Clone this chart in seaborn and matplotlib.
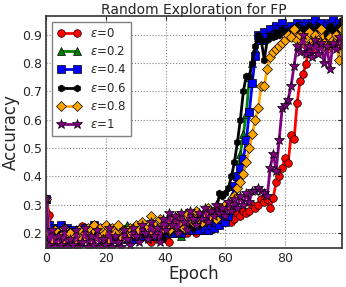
import numpy as np
import pandas as pd
import matplotlib
matplotlib.use("Agg")
import matplotlib.pyplot as plt
import seaborn as sns

# accuracy per epoch (0..99)
epochs = list(range(100))

acc_e0 = [0.32, 0.265, 0.19, 0.17, 0.16, 0.18, 0.17, 0.19, 0.18, 0.20,
          0.19, 0.17, 0.225, 0.22, 0.20, 0.18, 0.21, 0.19, 0.20, 0.18,
          0.19, 0.21, 0.20, 0.18, 0.19, 0.20, 0.21, 0.19, 0.20, 0.21,
          0.20, 0.21, 0.19, 0.20, 0.18, 0.17, 0.19, 0.18, 0.20, 0.19,
          0.18, 0.17, 0.20, 0.21, 0.20, 0.20, 0.21, 0.20, 0.22, 0.21,
          0.20, 0.22, 0.21, 0.23, 0.22, 0.21, 0.23, 0.24, 0.23, 0.25,
          0.24, 0.26, 0.24, 0.25, 0.27, 0.26, 0.28, 0.27, 0.28, 0.30,
          0.29, 0.30, 0.32, 0.31, 0.32, 0.29, 0.325, 0.38, 0.40, 0.43,
          0.466, 0.448, 0.545, 0.531, 0.657, 0.737, 0.76, 0.797, 0.86, 0.87,
          0.85, 0.88, 0.87, 0.89, 0.86, 0.88, 0.87, 0.89, 0.88, 0.87]

acc_e02 = [0.32, 0.20, 0.18, 0.19, 0.20, 0.19, 0.20, 0.18, 0.19, 0.20,
           0.21, 0.20, 0.19, 0.20, 0.21, 0.20, 0.22, 0.20, 0.21, 0.20,
           0.23, 0.21, 0.20, 0.21, 0.20, 0.22, 0.20, 0.23, 0.21, 0.20,
           0.20, 0.21, 0.20, 0.19, 0.20, 0.21, 0.20, 0.21, 0.22, 0.20,
           0.21, 0.20, 0.22, 0.21, 0.20, 0.19, 0.21, 0.22, 0.21, 0.22,
           0.22, 0.23, 0.22, 0.21, 0.23, 0.24, 0.23, 0.25, 0.24, 0.26,
           0.27, 0.28, 0.31, 0.35, 0.40, 0.48, 0.55, 0.62, 0.75, 0.80,
           0.85, 0.89, 0.88, 0.91, 0.90, 0.92, 0.93, 0.91, 0.92, 0.93,
           0.92, 0.91, 0.93, 0.92, 0.94, 0.93, 0.92, 0.93, 0.94, 0.93,
           0.95, 0.93, 0.92, 0.94, 0.93, 0.92, 0.94, 0.93, 0.92, 0.94]

acc_e04 = [0.32, 0.23, 0.22, 0.20, 0.22, 0.23, 0.21, 0.22, 0.20, 0.21,
           0.20, 0.21, 0.19, 0.22, 0.20, 0.21, 0.23, 0.21, 0.20, 0.22,
           0.20, 0.19, 0.21, 0.20, 0.18, 0.19, 0.20, 0.18, 0.19, 0.18,
           0.19, 0.20, 0.19, 0.20, 0.19, 0.21, 0.20, 0.19, 0.20, 0.21,
           0.20, 0.21, 0.20, 0.22, 0.21, 0.20, 0.22, 0.21, 0.22, 0.21,
           0.22, 0.21, 0.23, 0.22, 0.21, 0.23, 0.22, 0.24, 0.23, 0.25,
           0.24, 0.26, 0.30, 0.365, 0.40, 0.43, 0.46, 0.53, 0.626, 0.73,
           0.826, 0.897, 0.88, 0.91, 0.89, 0.92, 0.90, 0.93, 0.92, 0.94,
           0.92, 0.91, 0.93, 0.92, 0.94, 0.93, 0.92, 0.94, 0.93, 0.94,
           0.95, 0.93, 0.94, 0.92, 0.93, 0.94, 0.95, 0.93, 0.94, 0.93]

acc_e06 = [0.32, 0.18, 0.20, 0.19, 0.17, 0.20, 0.19, 0.21, 0.18, 0.20,
           0.21, 0.19, 0.20, 0.18, 0.21, 0.20, 0.19, 0.21, 0.20, 0.19,
           0.20, 0.18, 0.19, 0.20, 0.19, 0.18, 0.20, 0.19, 0.20, 0.19,
           0.20, 0.19, 0.21, 0.20, 0.19, 0.20, 0.21, 0.19, 0.20, 0.18,
           0.21, 0.20, 0.22, 0.21, 0.22, 0.21, 0.23, 0.22, 0.23, 0.22,
           0.24, 0.23, 0.24, 0.25, 0.26, 0.25, 0.27, 0.28, 0.34, 0.33,
           0.34, 0.36, 0.40, 0.45, 0.52, 0.60, 0.70, 0.755, 0.755, 0.80,
           0.86, 0.90, 0.88, 0.81, 0.88, 0.90, 0.89, 0.91, 0.90, 0.92,
           0.91, 0.90, 0.92, 0.91, 0.93, 0.90, 0.92, 0.91, 0.93, 0.92,
           0.91, 0.93, 0.92, 0.90, 0.92, 0.93, 0.91, 0.92, 0.93, 0.95]

acc_e08 = [0.32, 0.20, 0.17, 0.21, 0.16, 0.19, 0.22, 0.17, 0.20, 0.18,
           0.16, 0.21, 0.18, 0.20, 0.22, 0.17, 0.23, 0.19, 0.22, 0.18,
           0.23, 0.17, 0.22, 0.20, 0.23, 0.18, 0.21, 0.19, 0.22, 0.20,
           0.23, 0.21, 0.24, 0.22, 0.20, 0.26, 0.23, 0.21, 0.25, 0.22,
           0.24, 0.21, 0.25, 0.23, 0.26, 0.24, 0.22, 0.27, 0.25, 0.24,
           0.28, 0.26, 0.24, 0.27, 0.29, 0.26, 0.28, 0.25, 0.29, 0.28,
           0.30, 0.29, 0.31, 0.33, 0.36, 0.38, 0.41, 0.45, 0.50, 0.55,
           0.60, 0.64, 0.72, 0.72, 0.78, 0.82, 0.84, 0.85, 0.86, 0.87,
           0.88, 0.90, 0.89, 0.92, 0.88, 0.90, 0.87, 0.89, 0.91, 0.86,
           0.90, 0.88, 0.92, 0.87, 0.85, 0.89, 0.88, 0.90, 0.81, 0.92]

acc_e1 = [0.32, 0.16, 0.21, 0.15, 0.19, 0.16, 0.22, 0.15, 0.18, 0.16,
          0.21, 0.15, 0.17, 0.22, 0.15, 0.19, 0.16, 0.21, 0.15, 0.18,
          0.16, 0.22, 0.15, 0.19, 0.17, 0.15, 0.21, 0.18, 0.16, 0.22,
          0.19, 0.17, 0.23, 0.20, 0.18, 0.24, 0.19, 0.22, 0.17, 0.25,
          0.21, 0.27, 0.23, 0.26, 0.20, 0.27, 0.24, 0.21, 0.28, 0.25,
          0.23, 0.27, 0.25, 0.29, 0.24, 0.28, 0.26, 0.30, 0.27, 0.29,
          0.26, 0.31, 0.28, 0.32, 0.29, 0.33, 0.30, 0.34, 0.31, 0.35,
          0.35, 0.36, 0.35, 0.34, 0.33, 0.43, 0.48, 0.42, 0.53, 0.64,
          0.65, 0.67, 0.72, 0.79, 0.86, 0.84, 0.90, 0.83, 0.86, 0.82,
          0.88, 0.83, 0.87, 0.80, 0.86, 0.78, 0.87, 0.85, 0.89, 0.86]

labels = [r"$\epsilon$=0", r"$\epsilon$=0.2", r"$\epsilon$=0.4",
          r"$\epsilon$=0.6", r"$\epsilon$=0.8", r"$\epsilon$=1"]
colors = ["red", "green", "blue", "black", "orange", "purple"]
markers = ["o", "^", "s", "h", "D", "*"]
msizes = [5.5, 6, 5.5, 5, 5.5, 7]

series = [acc_e0, acc_e02, acc_e04, acc_e06, acc_e08, acc_e1]
df = pd.concat([pd.DataFrame({"Epoch": epochs, "Accuracy": s, "eps": lab})
                for s, lab in zip(series, labels)], ignore_index=True)

sns.set_style("white")
plt.rcParams["font.family"] = ["DejaVu Sans"]

fig = plt.figure(figsize=(3.46, 2.87), dpi=100)
ax = fig.add_axes([0.134, 0.136, 0.854, 0.808])

for lab, c, m, ms in zip(labels, colors, markers, msizes):
    sub = df[df["eps"] == lab]
    sns.lineplot(data=sub, x="Epoch", y="Accuracy", ax=ax, color=c,
                 marker=m, markersize=ms, markeredgecolor="black",
                 markeredgewidth=0.5, linewidth=2, label=lab)

ax.set_xlim(0, 99)
ax.set_ylim(0.148, 0.965)
ax.set_xticks([0, 20, 40, 60, 80])
ax.set_yticks([0.2, 0.3, 0.4, 0.5, 0.6, 0.7, 0.8, 0.9])
ax.grid(True, linestyle=":", color="gray", linewidth=0.8)
ax.tick_params(direction="in", top=True, right=True, labelsize=9,
               length=3, pad=3)
for sp in ax.spines.values():
    sp.set_color("#333333")
    sp.set_linewidth(1.2)

ax.set_title("Random Exploration for FP", fontsize=10, pad=1.5)
ax.set_xlabel("Epoch", fontsize=12, labelpad=0)
ax.set_ylabel("Accuracy", fontsize=12, labelpad=2)

leg = ax.legend(loc="upper left", fontsize=8.5, numpoints=2, fancybox=False,
                handlelength=2.0, labelspacing=0.45, borderaxespad=0.5,
                framealpha=1)
leg.get_frame().set_edgecolor("gray")

fig.savefig("out.png", dpi=100)
